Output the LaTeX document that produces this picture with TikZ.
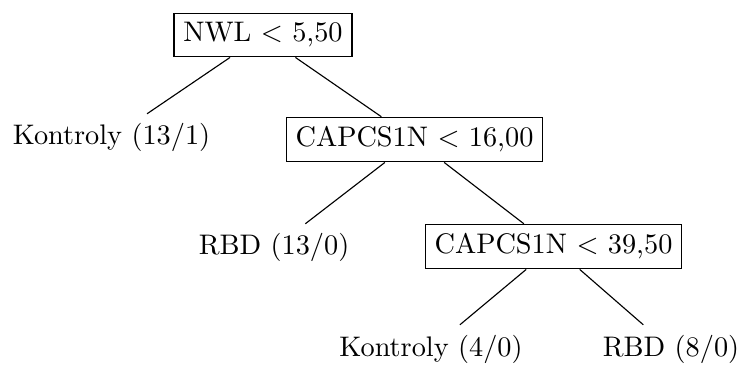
\documentclass[tikz,border=0pt]{standalone}
\begin{document}
\begin{tikzpicture}[x=0.3534pt,y=-0.3534pt,
  box/.style={draw, line width=0.4pt, inner sep=3.33pt, anchor=base},
  leaf/.style={inner sep=3.33pt, anchor=base},
  edge/.style={line width=0.4pt}]
\useasboundingbox (0,0) rectangle (745,368);
\node[box]  (root) at (263,42)    {NWL $<$ 5,50};
\node[leaf] (k1)   at (111.5,145) {Kontroly $(13/1)$};
\node[box]  (c1)   at (414.5,147) {CAPCS1N $<$ 16,00};
\node[leaf] (r1)   at (274,255)   {RBD $(13/0)$};
\node[box]  (c2)   at (553.5,254) {CAPCS1N $<$ 39,50};
\node[leaf] (k2)   at (431,356)   {Kontroly $(4/0)$};
\node[leaf] (r2)   at (671,356)   {RBD $(8/0)$};
\draw[edge] (root) -- (k1);
\draw[edge] (root) -- (c1);
\draw[edge] (c1) -- (r1);
\draw[edge] (c1) -- (c2);
\draw[edge] (c2) -- (k2);
\draw[edge] (c2) -- (r2);
\end{tikzpicture}
\end{document}
